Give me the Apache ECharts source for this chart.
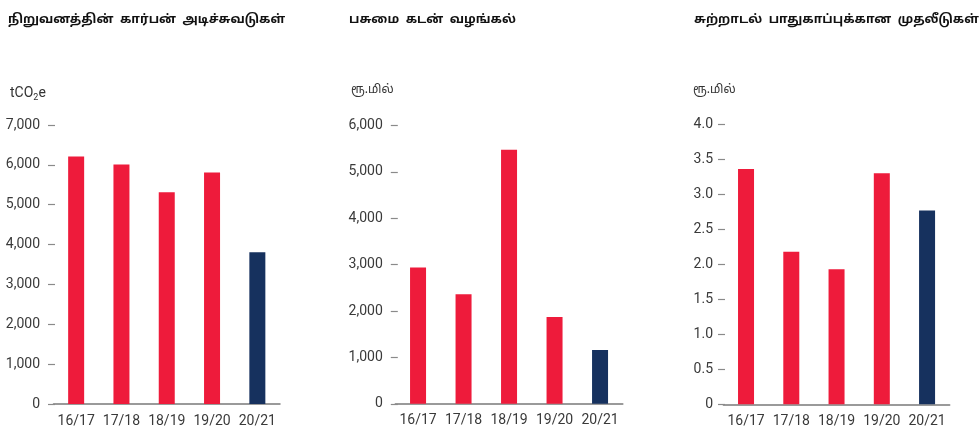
<!DOCTYPE html>
<html>
<head>
<meta charset="utf-8">
<script src="https://cdn.jsdelivr.net/npm/echarts@6/dist/echarts.min.js"></script>
<style>
  html, body { margin: 0; padding: 0; background: #fff; }
  #chart { width: 979px; height: 432px; }
</style>
</head>
<body>
<div id="chart"></div>
<script>
// Financial years shown on every panel
const years = ['16/17', '17/18', '18/19', '19/20', '20/21'];

// Corporate carbon footprint (tCO2e)
const carbonFootprint = [6210, 6010, 5310, 5810, 3810];
// Green loans granted (Rs. mn)
const greenLoans = [2940, 2360, 5480, 1870, 1160];
// Investments in environmental protection (Rs. mn)
const greenInvestments = [3.36, 2.18, 1.93, 3.30, 2.77];

const panelTitles = [
  'நிறுவனத்தின்  கார்பன்  அடிச்சுவடுகள்',
  'பசுமை  கடன்  வழங்கல்',
  'சுற்றாடல்  பாதுகாப்புக்கான  முதலீடுகள்'
];

const RED = '#EE1B3B';
const NAVY = '#16315E';
const TAMIL = '"Noto Sans Tamil", "Lohit Tamil", "Noto Sans", sans-serif';
const NUM = 'Roboto, "Noto Sans", sans-serif';

// the latest year is highlighted in navy
function colourBars(values) {
  return values.map((v, i) => ({
    value: v,
    itemStyle: { color: i === values.length - 1 ? NAVY : RED }
  }));
}

const panels = [
  { left: 53.5, width: 226.5, top: 125, height: 279, max: 7000, interval: 1000, offset: 5.5, margin: 8, data: carbonFootprint,
    fmt: v => v.toLocaleString('en-US') },
  { left: 395.3, width: 227.5, top: 125.6, height: 278.2, max: 6000, interval: 1000, offset: 4.5, margin: 8, data: greenLoans,
    fmt: v => v.toLocaleString('en-US') },
  { left: 723.4, width: 226.3, top: 124.3, height: 280, max: 4, interval: 0.5, offset: 5.4, margin: 5, data: greenInvestments,
    fmt: v => (v === 0 ? '0' : v.toFixed(1)) }
];

const titleStyle = { fontFamily: TAMIL, fontSize: 12.5, fontWeight: 'bold', color: '#111' };

const option = {
  animation: false,
  backgroundColor: '#ffffff',
  title: [
    { text: panelTitles[0], left: 3, top: 9, textStyle: titleStyle },
    { text: panelTitles[1], left: 344, top: 9, textStyle: titleStyle },
    { text: panelTitles[2], left: 689, top: 9, textStyle: titleStyle },
    { text: '{a|tCO}{s|2}{a|e}', left: 5, top: 80,
      textStyle: { rich: {
        a: { fontFamily: NUM, fontSize: 14, fontWeight: 'normal', color: '#333' },
        s: { fontFamily: NUM, fontSize: 9, fontWeight: 'normal', color: '#333', verticalAlign: 'bottom', padding: [8, 0, 0, 0] }
      } } },
    { text: 'ரூ.மில்', left: 346, top: 80, textStyle: { fontFamily: TAMIL, fontSize: 12, fontWeight: 'normal', color: '#333' } },
    { text: 'ரூ.மில்', left: 688, top: 80, textStyle: { fontFamily: TAMIL, fontSize: 12, fontWeight: 'normal', color: '#333' } }
  ],
  grid: panels.map(p => ({ left: p.left, width: p.width, top: p.top, height: p.height, containLabel: false })),
  xAxis: panels.map((p, i) => ({
    type: 'category',
    gridIndex: i,
    data: years,
    axisLine: { show: true, lineStyle: { color: '#7a7a7a', width: 1.5 } },
    axisTick: { show: false },
    axisLabel: { interval: 0, hideOverlap: false, color: '#3a3a3a', fontFamily: NUM, fontSize: 14, margin: 10 }
  })),
  yAxis: panels.map((p, i) => ({
    type: 'value',
    gridIndex: i,
    min: 0,
    max: p.max,
    interval: p.interval,
    offset: p.offset,
    axisLine: { show: false },
    axisTick: { show: true, inside: true, length: 7, lineStyle: { color: '#8a8a8a', width: 1.2 } },
    splitLine: { show: false },
    axisLabel: { color: '#3a3a3a', fontFamily: NUM, fontSize: 14, margin: p.margin, formatter: p.fmt }
  })),
  series: panels.map((p, i) => ({
    type: 'bar',
    xAxisIndex: i,
    yAxisIndex: i,
    barWidth: 16,
    data: colourBars(p.data)
  }))
};

const chart = echarts.init(document.getElementById('chart'), null, { renderer: 'canvas' });
chart.setOption(option);
</script>
</body>
</html>
